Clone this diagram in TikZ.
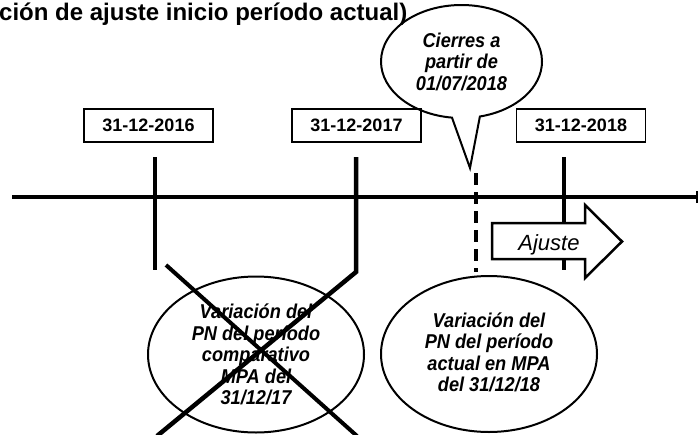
\documentclass[tikz,border=0pt]{standalone}
\usepackage{fontspec}
\setmainfont{Liberation Sans}
\newfontfamily\tallfont[FakeStretch=0.91]{Liberation Sans}
\usetikzlibrary{shapes.geometric,shapes.callouts}
\begin{document}
\begin{tikzpicture}[x=1pt,y=-1pt,
  datebox/.style={draw,line width=1.5pt,minimum width=129pt,minimum height=33pt,inner sep=0pt,font=\fontsize{18}{21.5}\selectfont\bfseries},
  bubbletext/.style={font=\tallfont\fontsize{20}{21.5}\selectfont\bfseries\itshape},
  bubble/.style={draw,ellipse,line width=2pt,minimum width=216pt,minimum height=156pt,inner sep=0pt,align=center,bubbletext},
  tickline/.style={line width=4.5pt},
  axisline/.style={line width=4pt},
  crossline/.style={line width=4pt},
  dashline/.style={line width=3.5pt,dash pattern=on 12pt off 7pt},
  blockarrow/.style={line width=2.5pt,fill=white,line join=miter}
]
\useasboundingbox (0,0) rectangle (698,434);

% title (cut off at the left)
\node[anchor=base west,inner sep=0pt,font=\fontsize{24}{28}\selectfont\bfseries] (title) at (-1,20) {ción de ajuste inicio período actual)};

% date boxes
\node[datebox] (d16) at (148.5,125.5) {31-12-2016};
\node[datebox] (d17) at (356.5,125.5) {31-12-2017};
\node[datebox] (d18) at (581,125.5) {31-12-2018};

% callout
\node[ellipse callout,draw,line width=2pt,minimum width=161pt,minimum height=113pt,inner sep=0pt,align=center,
      bubbletext,
      callout absolute pointer={(470,168)},callout pointer arc=20] (call) at (461.5,61.5) {\raisebox{-2pt}{}Cierres a\\partir de\\01/07/2018};

% ellipses
\node[bubble] (e1) at (256,354.5) {Variación del\\PN del período\\comparativo\\MPA del\\31/12/17};
\node[bubble,text depth=4pt] (e2) at (489,354) {Variación del\\PN del período\\actual en MPA\\del 31/12/18};

% axis
\coordinate (axL) at (12,197);
\coordinate (axR) at (697,197);
\draw[axisline] (axL) -- (axR);
\draw[line width=1.2pt] (697,191) -- (697,203);

% ticks
\coordinate (t16a) at (155,157);
\coordinate (t16b) at (155,270);
\draw[tickline] (t16a) -- (t16b);
\coordinate (t18a) at (564,157);
\coordinate (t18b) at (564,270);
\draw[tickline] (t18a) -- (t18b);

% Ajuste block arrow (drawn over the 2018 tick)
\draw[blockarrow] (492,223) -- (585,223) -- (585,205) -- (622,241.5) -- (585,278) -- (585,259) -- (492,259) -- cycle;
\node[anchor=base,inner sep=0pt,font=\fontsize{22}{26}\selectfont\itshape] (aj) at (549,250) {Ajuste};

% dashed line
\coordinate (da) at (476,173);
\coordinate (db) at (476,272);
\draw[dashline] (da) -- (db);

% cross
\coordinate (t17a) at (356,157);
\coordinate (t17b) at (356,272);
\coordinate (x1a) at (166,265);
\coordinate (x1b) at (357,436);
\coordinate (x2b) at (157,436);
\draw[crossline] (x1a) -- (x1b);
\draw[tickline,line join=miter] (t17a) -- (t17b) -- (x2b);
\end{tikzpicture}
\end{document}
